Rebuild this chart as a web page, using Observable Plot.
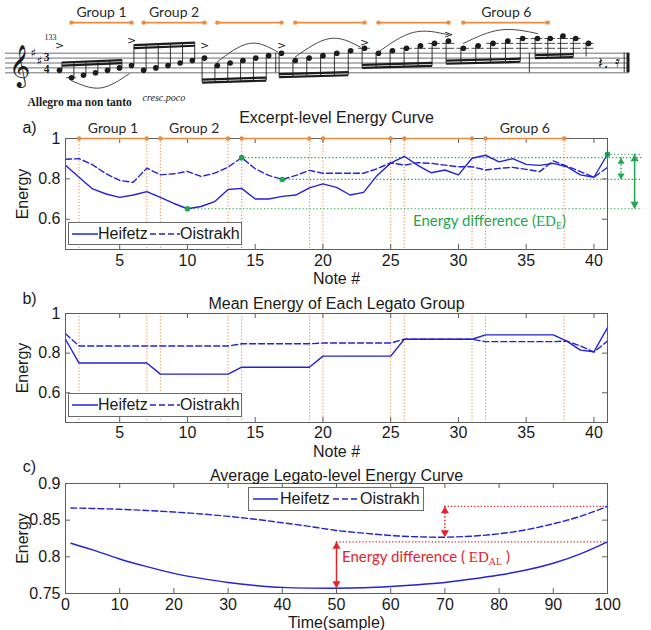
<!DOCTYPE html>
<html>
<head>
<meta charset="utf-8">
<script src="https://cdn.jsdelivr.net/npm/d3@7"></script>
<script src="https://cdn.jsdelivr.net/npm/@observablehq/plot@0.6"></script>
<style>
  html,body{margin:0;padding:0;background:#fff;}
  #root{position:relative;width:651px;height:630px;overflow:hidden;background:#fff;}
  .legend{position:absolute;background:#fff;border:1px solid #6a6a6a;box-sizing:border-box;font-family:"Liberation Sans",Arial,sans-serif;font-size:16px;color:#1a1a1a;}
  .legend .it{position:absolute;top:50%;transform:translateY(-50%);line-height:1;white-space:nowrap;}
  .legend svg{display:block;}
  .ann{position:absolute;white-space:nowrap;line-height:1;font-family:Lato,"Open Sans",sans-serif;font-size:15px;}
  .ann .m{font-family:"Liberation Serif","DejaVu Serif",serif;font-size:15px;}
  .ann sub{font-size:10px;vertical-align:-3px;line-height:0;}
</style>
</head>
<body>
<div id="root"></div>
<script>
// ---------------- data ----------------
const notes = [1,2,3,4,5,6,7,8,9,10,11,12,13,14,15,16,17,18,19,20,21,22,23,24,25,26,27,28,29,30,31,32,33,34,35,36,37,38,39,40,41];
const heifetzExcerpt = [0.867,0.808,0.750,0.725,0.708,0.720,0.737,0.708,0.678,0.652,0.663,0.687,0.747,0.753,0.700,0.700,0.713,0.720,0.755,0.775,0.758,0.720,0.733,0.817,0.878,0.912,0.867,0.830,0.844,0.820,0.902,0.917,0.884,0.900,0.872,0.867,0.877,0.860,0.820,0.808,0.922];
const oistrakhExcerpt = [0.897,0.900,0.870,0.825,0.792,0.783,0.853,0.820,0.825,0.837,0.812,0.828,0.858,0.905,0.850,0.817,0.797,0.817,0.842,0.828,0.828,0.828,0.828,0.850,0.880,0.868,0.880,0.877,0.868,0.860,0.860,0.844,0.852,0.857,0.847,0.836,0.889,0.863,0.836,0.808,0.857];
const heifetzGroupMean = [0.870,0.750,0.750,0.750,0.750,0.750,0.750,0.694,0.694,0.694,0.694,0.694,0.694,0.729,0.729,0.729,0.729,0.729,0.729,0.785,0.785,0.785,0.785,0.785,0.785,0.870,0.870,0.870,0.870,0.870,0.870,0.892,0.892,0.892,0.892,0.892,0.892,0.861,0.815,0.807,0.929];
const oistrakhGroupMean = [0.898,0.836,0.836,0.836,0.836,0.836,0.836,0.836,0.836,0.836,0.836,0.836,0.836,0.847,0.847,0.847,0.847,0.847,0.847,0.851,0.851,0.851,0.851,0.851,0.851,0.870,0.870,0.870,0.870,0.870,0.870,0.858,0.858,0.858,0.858,0.858,0.858,0.861,0.836,0.805,0.861];
const groupNames = ["Group 1","Group 2","","","","Group 6"];
const groupStart = [2,8,14,20,26,32];
const groupEnd = [7,13,19,25,31,37.8];
const edNotesHeifetz = [10,41];
const edNotesOistrakh = [14,17];
const samples = [1,5,10,15,20,25,30,35,40,45,50,55,60,65,70,75,80,85,90,95,100];
const heifetzLegato = [0.8186,0.8095,0.7970,0.7866,0.7775,0.7706,0.7650,0.7610,0.7583,0.7573,0.7571,0.7578,0.7596,0.7620,0.7650,0.7697,0.7752,0.7820,0.7912,0.8040,0.8205];
const oistrakhLegato = [0.8666,0.8660,0.8648,0.8632,0.8611,0.8585,0.8552,0.8512,0.8465,0.8415,0.8360,0.8323,0.8291,0.8273,0.8268,0.8282,0.8314,0.8369,0.8451,0.8552,0.8689];
const noteTicks = [5,10,15,20,25,30,35,40];
const energyTicksAB = [0.6,0.8,1];
const sampleTicks = [0,10,20,30,40,50,60,70,80,90,100];
const energyTicksC = [0.75,0.8,0.85,0.9];
// score excerpt (staff steps: 0 = bottom line)
const scorePitch = [1,-2,-1,0,1,2, 3,1,2,3,4,5, 6,3,4,5,6,7, 8,5,6,7,8,9, 10,8,9,10,11,12, 13,10,11,12,13,14, 14,14,15,14,12];
const accentNotes = [1,7,13,19,25,31];

// ---------------- styles ----------------
const BLUE = "#2222d8", FRAME = "#5e5e5e", ORANGE = "#ec8a3d", GREEN = "#1fa64f", RED = "#e4242b", INK = "#1c1c1c";
const baseStyle = {fontFamily: '"Liberation Sans", Arial, sans-serif', fontSize: "16px", color: "#1a1a1a", background: "transparent", overflow: "visible"};
const root = document.getElementById("root");
function place(el, top) { el.style.position = "absolute"; el.style.left = "0px"; el.style.top = top + "px"; root.appendChild(el); }
const label = (t, o) => Plot.text([t], {text: d => d, textAnchor: "middle", lineAnchor: "middle", ...o});

const groups = groupStart.map((s, i) => ({start: s, end: groupEnd[i], label: groupNames[i]}));
const groupEnds = groups.flatMap(g => [g.start, g.end]);

function arrow(x, yTop, yBot, color, dotted, r) {
  const off = 1.555 * r;
  return [
    Plot.ruleX([0], {x: () => x, y1: () => yTop, y2: () => yBot, stroke: color, strokeWidth: 1.5, strokeDasharray: dotted ? "1.5,2" : null}),
    Plot.dot([0], {x: () => x, y: () => yTop, r, symbol: "triangle", fill: color, dy: off}),
    Plot.dot([0], {x: () => x, y: () => yBot, r, symbol: "triangle", rotate: 180, fill: color, dy: -off})
  ];
}

function panel({top, height, mt, mb, xDomain, yDomain, xTicks, yTicks, padX, under, over}) {
  const H = height - mt - mb, W = 651 - 65 - 44;
  const svg = Plot.plot({
    width: 651, height, marginTop: mt, marginBottom: mb, marginLeft: 65, marginRight: 44,
    x: {domain: xDomain}, y: {domain: yDomain},
    style: baseStyle,
    marks: [
      ...under,
      Plot.frame({stroke: FRAME}),
      Plot.ruleX(xTicks, {x: d => d, insetTop: H - 5, stroke: FRAME}),
      Plot.ruleX(xTicks, {x: d => d, insetBottom: H - 5, stroke: FRAME}),
      Plot.ruleY(yTicks, {y: d => d, insetRight: W - 5, stroke: FRAME}),
      Plot.ruleY(yTicks, {y: d => d, insetLeft: W - 5, stroke: FRAME}),
      Plot.axisX({ticks: xTicks, tickSize: 0, tickPadding: padX, label: null, tickFormat: d => `${d}`}),
      Plot.axisY({ticks: yTicks, tickSize: 0, tickPadding: 5, label: null, tickFormat: d => `${d}`}),
      label("Energy", {frameAnchor: "left", dx: -43, rotate: -90}),
      ...over
    ]
  });
  place(svg, top);
  return svg;
}

// ---------------- score (top) ----------------
// horizontal engraving layout of the 41 notes (note index -> position along the staff)
const scoreLayout = d3.scaleLinear().domain([1,7,13,19,25,31,37,41]).range([59,131,204,281,364,448,537,588]);
const scoreNotes = scorePitch.map((s, i) => ({n: i + 1, s}));
const scoreGroups = [
  {from: 1, to: 6, up: true, beam: [4.2, 5.2]},
  {from: 7, to: 12, up: true, beam: [11.3, 12.3]},
  {from: 13, to: 18, up: false, beam: [-4.0, -3.2]},
  {from: 19, to: 24, up: false, beam: [-1.8, -1.0]},
  {from: 25, to: 30, up: false, beam: [2.0, 2.8]},
  {from: 31, to: 36, up: false, beam: [3.7, 4.5]},
  {from: 37, to: 40, up: false, beam: [6.0, 6.4]},
  {from: 41, to: 41, up: false, beam: [6.5, 6.5]}
];
const beamAt = (g, n) => g.to === g.from ? g.beam[0] : g.beam[0] + (g.beam[1] - g.beam[0]) * (n - g.from) / (g.to - g.from);
const stems = scoreNotes.map(d => { const g = scoreGroups.find(g => d.n >= g.from && d.n <= g.to); return {...d, up: g.up, end: beamAt(g, d.n)}; });
const beams = scoreGroups.filter(g => g.to > g.from).flatMap(g => {
  const off = g.up ? -1.25 : 1.25;
  return [{x1: g.from, x2: g.to, y1: g.beam[0], y2: g.beam[1], up: g.up}, {x1: g.from, x2: g.to, y1: g.beam[0] + off, y2: g.beam[1] + off, up: g.up}];
});
const ledgers = scoreNotes.flatMap(d => {
  const out = [];
  for (let s = 10; s <= d.s; s += 2) out.push({n: d.n, s});
  for (let s = -2; s >= d.s; s -= 2) out.push({n: d.n, s});
  return out;
});
const accents = accentNotes.map(n => { const st = stems[n - 1]; return {n, s: Math.max(11.2, st.up ? st.end + 1.8 : st.s + 2.5)}; });
const scoreSlurs = [
  [[2, -3.2], [4.4, -6.2], [6.8, -0.4]],
  [[14, 4.5], [16.5, 12], [18.7, 8.5]],
  [[20, 6.5], [22.5, 14], [24.7, 10.5]],
  [[26, 8.5], [28.5, 16.5], [31, 15.5]],
  [[32, 12], [34.5, 17.5], [37, 16]]
].flatMap((pts, id) => pts.map(([n, s]) => ({id, n, s})));
const scoreGlyphs = [
  {t: "\u{1D11E}", px: 19, py: 66, size: 36, font: "DejaVu Sans"},
  {t: "\u266F", px: 33, py: 53, size: 12, font: "DejaVu Sans"},
  {t: "\u266F", px: 39, py: 60.5, size: 12, font: "DejaVu Sans"},
  {t: "3", px: 46, py: 56.5, size: 11.5, font: "Liberation Serif", weight: "bold"},
  {t: "4", px: 46, py: 68.5, size: 11.5, font: "Liberation Serif", weight: "bold"},
  {t: "133", px: 50, py: 37, size: 8, font: "Liberation Serif"},
  {t: "Allegro ma non tanto", px: 27, py: 102, size: 11.5, font: "Liberation Serif", weight: "bold", anchor: "start"},
  {t: "cresc.poco", px: 142, py: 97, size: 10, font: "Liberation Serif", style: "italic", anchor: "start"},
  {t: "\u{1D13D}.", px: 603, py: 62, size: 16, font: "DejaVu Sans"},
  {t: "\u{1D13F}", px: 617, py: 61, size: 16, font: "DejaVu Sans"}
];
const BAR_STEP = 20.5;
const score = Plot.plot({
  width: 651, height: 108, margin: 0,
  x: {transform: n => scoreLayout(n), domain: [0, 651], range: [0, 651], axis: null},
  y: {domain: [0, 8], range: [72.3, 52.7], axis: null},
  style: baseStyle,
  marks: [
    Plot.ruleY([0,2,4,6,8], {y: d => d, x1: () => -3.5, x2: () => 44.2, stroke: "#4a4a4a", strokeWidth: 0.8}),
    Plot.ruleX([18.55, 36.45, 43.8], {x: d => d, y1: () => 0, y2: () => 8, stroke: INK, strokeWidth: 0.9}),
    Plot.ruleX([44.1], {x: d => d, y1: () => 0, y2: () => 8, stroke: INK, strokeWidth: 3}),
    Plot.ruleY(ledgers, {y: "s", x1: d => d.n - 0.42, x2: d => d.n + 0.42, stroke: INK, strokeWidth: 0.8}),
    Plot.ruleX(stems.filter(d => d.up), {x: "n", y1: "s", y2: "end", dx: 2.4, stroke: INK, strokeWidth: 0.9}),
    Plot.ruleX(stems.filter(d => !d.up), {x: "n", y1: "s", y2: "end", dx: -2.4, stroke: INK, strokeWidth: 0.9}),
    Plot.link(beams.filter(d => d.up), {x1: "x1", x2: "x2", y1: "y1", y2: "y2", dx: 2.4, stroke: INK, strokeWidth: 2.2}),
    Plot.link(beams.filter(d => !d.up), {x1: "x1", x2: "x2", y1: "y1", y2: "y2", dx: -2.4, stroke: INK, strokeWidth: 2.2}),
    Plot.dot(scoreNotes, {x: "n", y: "s", r: 2.8, fill: INK}),
    Plot.line(scoreSlurs, {x: "n", y: "s", z: "id", curve: "natural", stroke: "#333", strokeWidth: 0.9}),
    Plot.text(accents, {x: "n", y: "s", text: () => ">", fontSize: 11, fontFamily: "DejaVu Sans", fill: INK}),
    Plot.ruleY(groups, {x1: "start", x2: "end", y: () => BAR_STEP, stroke: ORANGE, strokeWidth: 1.6}),
    Plot.dot(groupEnds, {x: d => d, y: () => BAR_STEP, r: 2.2, fill: ORANGE}),
    Plot.text(groups.filter(g => g.label), {x: g => (g.start + g.end) / 2, y: () => BAR_STEP, text: "label", dy: -10, fontFamily: "Lato", fontSize: 14, fill: "#2a2a2a"}),
    ...scoreGlyphs.map(g => Plot.text([g.t], {text: d => d, frameAnchor: "top-left", dx: g.px, dy: g.py, lineAnchor: "middle", fontSize: g.size, fontFamily: g.font, fontWeight: g.weight || null, fontStyle: g.style || null, textAnchor: g.anchor || "middle", fill: INK}))
  ]
});
place(score, 0);

// ---------------- panel a ----------------
const edPtsA = [
  ...edNotesHeifetz.map(n => ({n, v: heifetzExcerpt[n - 1]})),
  ...edNotesOistrakh.map(n => ({n, v: oistrakhExcerpt[n - 1]}))
];
const oVals = edNotesOistrakh.map(n => oistrakhExcerpt[n - 1]);
const hVals = edNotesHeifetz.map(n => heifetzExcerpt[n - 1]);
const GREEN_END = 43.6;
panel({
  top: 105, height: 180, mt: 33, mb: 36, xDomain: [1, 41], yDomain: [0.45, 1],
  xTicks: noteTicks, yTicks: energyTicksAB, padX: 5,
  under: [
    Plot.ruleX(groupEnds, {x: d => d, stroke: ORANGE, strokeWidth: 1, strokeDasharray: "1.2,2"}),
    Plot.ruleY(edPtsA, {x1: "n", x2: () => GREEN_END, y: "v", stroke: GREEN, strokeWidth: 1.2, strokeDasharray: "1.3,2.2"}),
    Plot.line(notes, {x: d => d, y: (d, i) => heifetzExcerpt[i], stroke: BLUE, strokeWidth: 1.4}),
    Plot.line(notes, {x: d => d, y: (d, i) => oistrakhExcerpt[i], stroke: BLUE, strokeWidth: 1.4, strokeDasharray: "6,3"}),
    Plot.dot(edPtsA, {x: "n", y: "v", r: 2.8, fill: GREEN}),
    ...arrow(42.0, d3.max(oVals), d3.min(oVals), GREEN, true, 2.6),
    ...arrow(43.0, d3.max(hVals), d3.min(hVals), GREEN, false, 3)
  ],
  over: [
    Plot.ruleY(groups, {x1: "start", x2: "end", y: () => 1, stroke: ORANGE, strokeWidth: 1.6}),
    Plot.dot(groupEnds, {x: d => d, y: () => 1, r: 2.2, fill: ORANGE}),
    Plot.text(groups.filter(g => g.label), {x: g => (g.start + g.end) / 2, y: () => 1, text: "label", dy: -10, fontFamily: "Lato", fontSize: 14, fill: "#2a2a2a"}),
    label("Excerpt-level Energy Curve", {frameAnchor: "top", dy: -21}),
    label("a)", {frameAnchor: "top-left", dx: -36, dy: -11}),
    label("Note #", {frameAnchor: "bottom", dy: 29})
  ]
});

// ---------------- panel b ----------------
panel({
  top: 280, height: 175, mt: 33, mb: 33, xDomain: [1, 41], yDomain: [0.45, 1],
  xTicks: noteTicks, yTicks: energyTicksAB, padX: 4,
  under: [
    Plot.ruleX(groupEnds, {x: d => d, stroke: ORANGE, strokeWidth: 1, strokeDasharray: "1.2,2"}),
    Plot.line(notes, {x: d => d, y: (d, i) => heifetzGroupMean[i], stroke: BLUE, strokeWidth: 1.4}),
    Plot.line(notes, {x: d => d, y: (d, i) => oistrakhGroupMean[i], stroke: BLUE, strokeWidth: 1.4, strokeDasharray: "6,3"})
  ],
  over: [
    label("Mean Energy of Each Legato Group", {frameAnchor: "top", dy: -10}),
    label("b)", {frameAnchor: "top-left", dx: -36, dy: -15}),
    label("Note #", {frameAnchor: "bottom", dy: 29})
  ]
});

// ---------------- panel c ----------------
const hMinI = d3.minIndex(heifetzLegato), oMinI = d3.minIndex(oistrakhLegato);
const hMax = d3.max(heifetzLegato), oMax = d3.max(oistrakhLegato);
panel({
  top: 440, height: 190, mt: 43, mb: 37, xDomain: [0, 100], yDomain: [0.75, 0.9],
  xTicks: sampleTicks, yTicks: energyTicksC, padX: 5,
  under: [
    Plot.ruleY([{x1: samples[oMinI], y: oMax}, {x1: samples[hMinI], y: hMax}], {x1: "x1", x2: () => 100, y: "y", stroke: RED, strokeWidth: 1.2, strokeDasharray: "1.3,2"}),
    Plot.line(samples, {x: d => d, y: (d, i) => heifetzLegato[i], curve: "natural", stroke: BLUE, strokeWidth: 1.4}),
    Plot.line(samples, {x: d => d, y: (d, i) => oistrakhLegato[i], curve: "natural", stroke: BLUE, strokeWidth: 1.4, strokeDasharray: "6,3"}),
    ...arrow(samples[oMinI], oMax, oistrakhLegato[oMinI], RED, true, 3),
    ...arrow(samples[hMinI], hMax, heifetzLegato[hMinI], RED, false, 3)
  ],
  over: [
    label("Average Legato-level Energy Curve", {frameAnchor: "top", dy: -8}),
    label("c)", {frameAnchor: "top-left", dx: -36, dy: -17}),
    label("Time(sample)", {frameAnchor: "bottom", dy: 29})
  ]
});

// ---------------- legends & annotations ----------------
function swatch(w, dashed) {
  return `<svg width="${w}" height="4"><line x1="0" x2="${w}" y1="2" y2="2" stroke="${BLUE}" stroke-width="1.5" ${dashed ? 'stroke-dasharray="6,3"' : ""}/></svg>`;
}
function legend(left, top, w, h, pos) {
  const d = document.createElement("div");
  d.className = "legend";
  Object.assign(d.style, {left: left + "px", top: top + "px", width: w + "px", height: h + "px"});
  d.innerHTML =
    `<div class="it" style="left:${pos[0]}px">${swatch(pos[1], false)}</div>` +
    `<div class="it" style="left:${pos[2]}px">Heifetz</div>` +
    `<div class="it" style="left:${pos[3]}px">${swatch(pos[4], true)}</div>` +
    `<div class="it" style="left:${pos[5]}px">Oistrakh</div>`;
  root.appendChild(d);
}
legend(68, 222, 174, 23, [3, 26, 29, 81, 30, 111]);
legend(68, 393, 174, 24, [3, 26, 29, 81, 30, 111]);
legend(248, 487, 176, 24, [4, 25, 31, 84, 25, 111]);

function ann(left, top, color, html) {
  const d = document.createElement("div");
  d.className = "ann";
  Object.assign(d.style, {left: left + "px", top: top + "px", color});
  d.innerHTML = html;
  root.appendChild(d);
}
ann(413, 213, GREEN, `Energy difference (<span class="m">ED<sub>E</sub></span>)`);
ann(342, 549, RED, `Energy difference ( <span class="m">ED<sub>AL</sub></span> )`);
</script>
</body>
</html>
